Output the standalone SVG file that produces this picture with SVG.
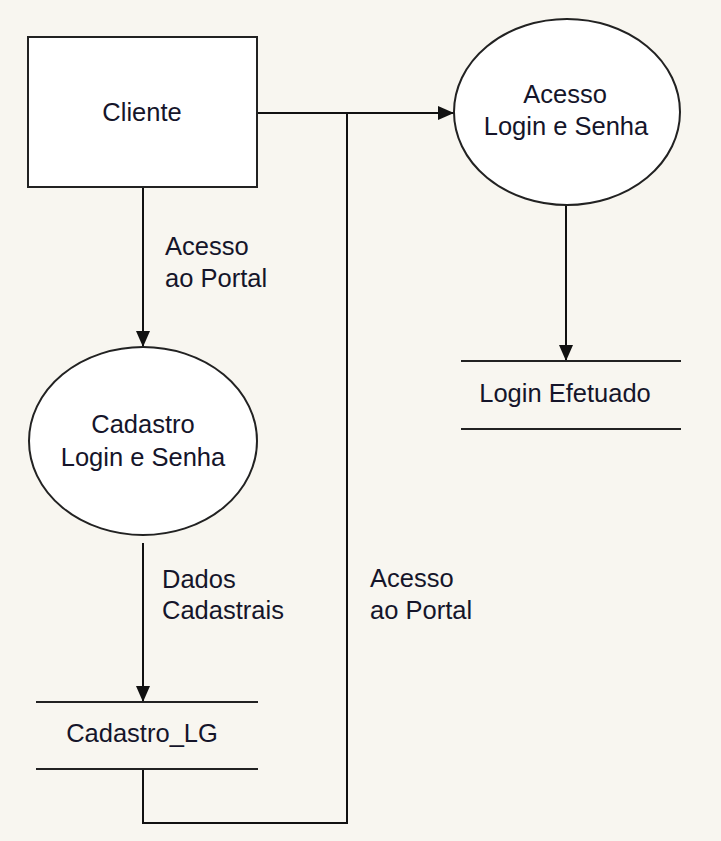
<svg xmlns="http://www.w3.org/2000/svg" width="721" height="841" viewBox="0 0 721 841">
  <defs>
    <marker id="arrow" viewBox="0 0 16 14" refX="16" refY="7" markerWidth="16" markerHeight="14" markerUnits="userSpaceOnUse" orient="auto">
      <path d="M0,0 L16,7 L0,14 Z" fill="#111"/>
    </marker>
  </defs>
  <style>
    text { font-family: "Liberation Sans", Arial, sans-serif; font-size: 25.5px; fill: #15152a; }
    .c { text-anchor: middle; }
    .shape { fill: #ffffff; stroke: #222; stroke-width: 2; }
    .store { stroke: #222; stroke-width: 2; fill: none; }
    .flow { stroke: #111; stroke-width: 2; fill: none; }
  </style>
  <rect x="0" y="0" width="721" height="841" fill="#f8f6f0"/>

  <g id="connectors">
    <path class="flow" d="M143,187 V347" marker-end="url(#arrow)"/>
    <path class="flow" d="M257,113 H454" marker-end="url(#arrow)"/>
    <path class="flow" d="M566,206 V361" marker-end="url(#arrow)"/>
    <path class="flow" d="M143,543 V702" marker-end="url(#arrow)"/>
    <path class="flow" d="M143,769 V823 H347 V113"/>
    <text x="165" y="255">Acesso</text>
    <text x="165" y="287">ao Portal</text>
    <text x="162" y="588">Dados</text>
    <text x="162" y="619">Cadastrais</text>
    <text x="370" y="587">Acesso</text>
    <text x="370" y="619">ao Portal</text>
  </g>

  <g id="cliente">
    <rect class="shape" x="28" y="37" width="229" height="150"/>
    <text class="c" x="142" y="121">Cliente</text>
  </g>

  <g id="acesso-login">
    <ellipse class="shape" cx="567" cy="112" rx="113" ry="93"/>
    <text class="c" x="565" y="103">Acesso</text>
    <text class="c" x="566" y="135">Login e Senha</text>
  </g>

  <g id="cadastro-login">
    <ellipse class="shape" cx="143" cy="441" rx="114" ry="94"/>
    <text class="c" x="143" y="433">Cadastro</text>
    <text class="c" x="143" y="466">Login e Senha</text>
  </g>

  <g id="login-efetuado">
    <line class="store" x1="461" y1="361" x2="681" y2="361"/>
    <line class="store" x1="461" y1="429" x2="681" y2="429"/>
    <text class="c" x="565" y="402">Login Efetuado</text>
  </g>

  <g id="cadastro-lg">
    <line class="store" x1="36" y1="702" x2="258" y2="702"/>
    <line class="store" x1="36" y1="769" x2="258" y2="769"/>
    <text class="c" x="142" y="742">Cadastro_LG</text>
  </g>
</svg>
